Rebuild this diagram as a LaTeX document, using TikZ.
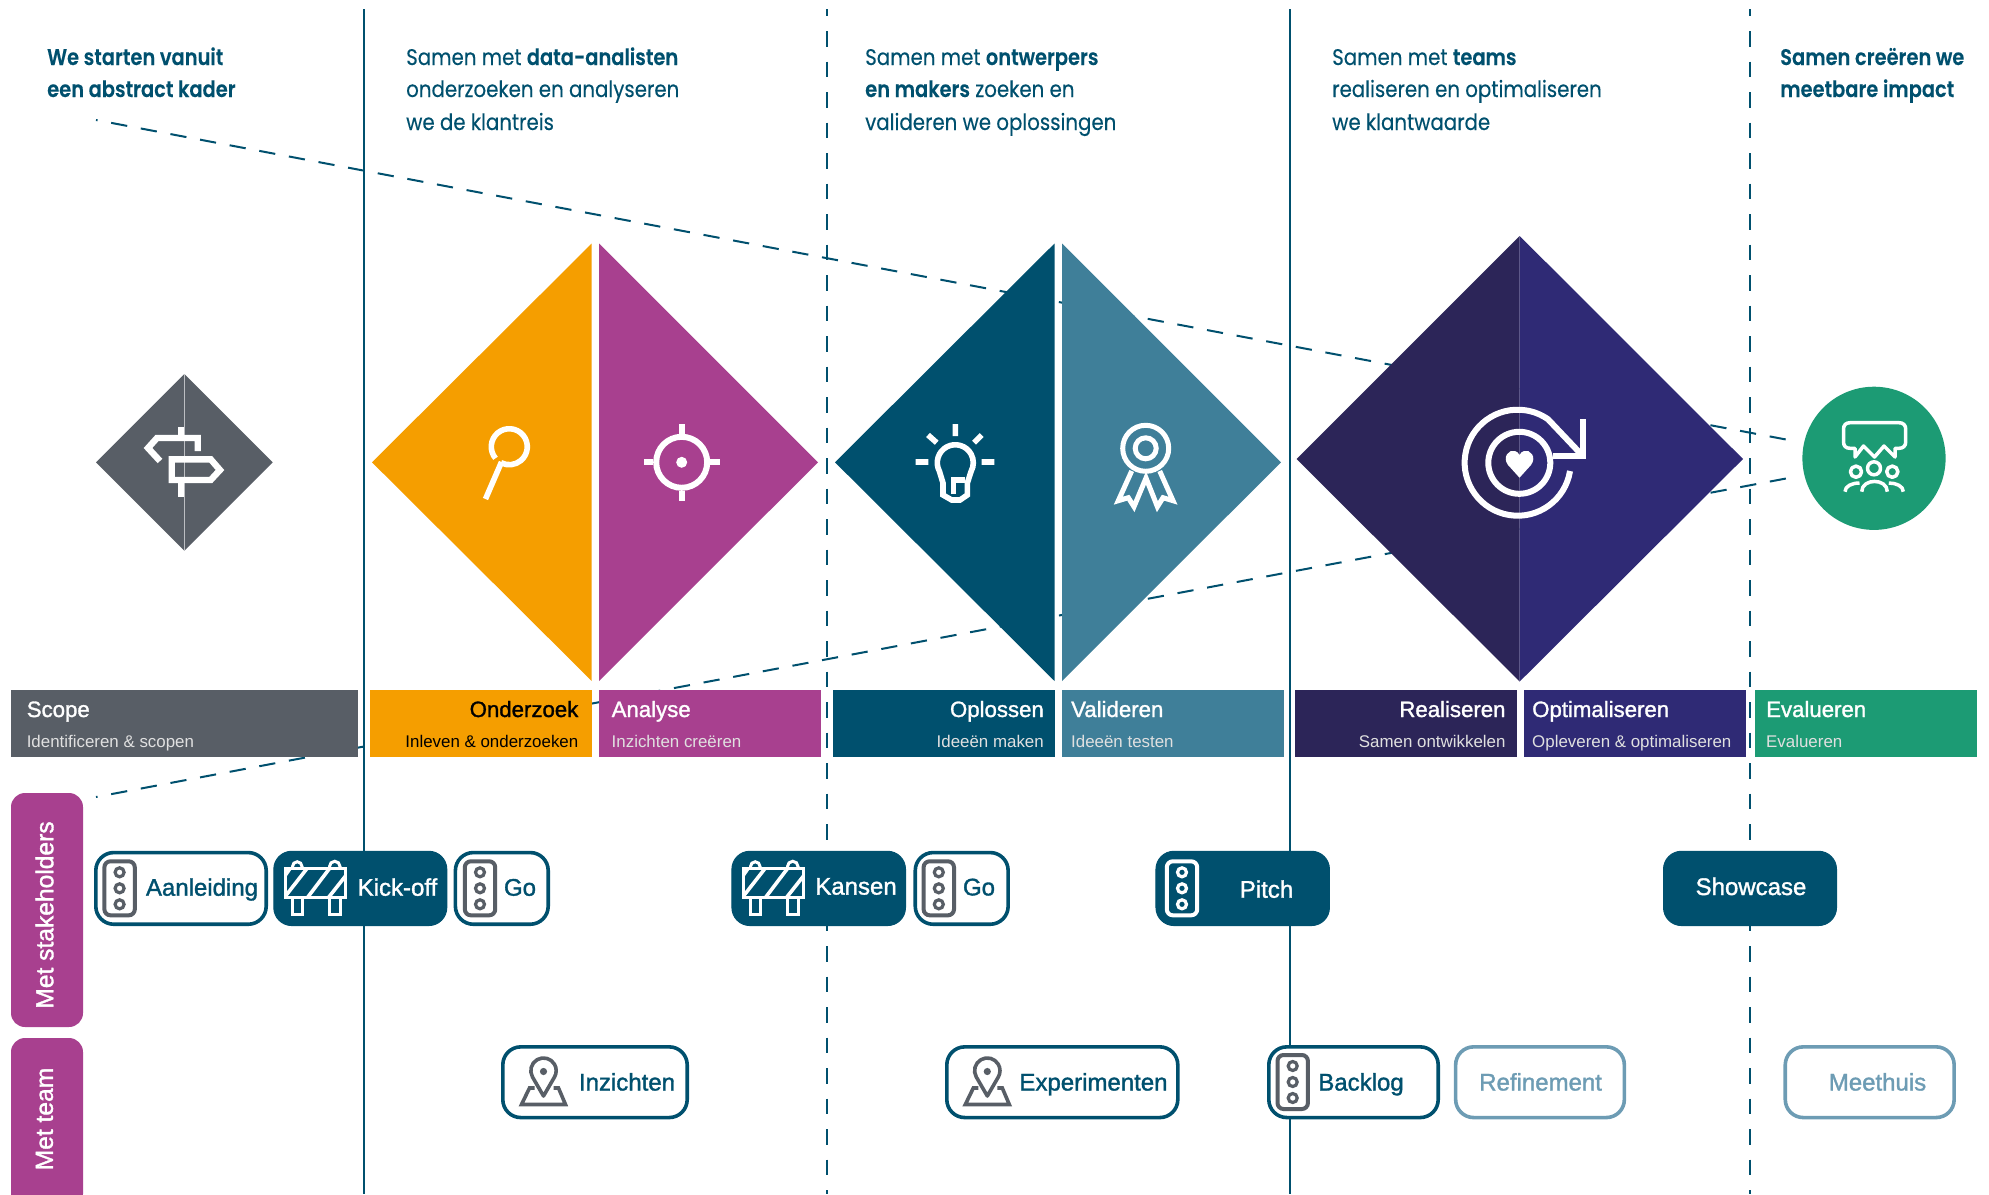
\documentclass[tikz,border=0pt]{standalone}
\usepackage{fontspec}
\usetikzlibrary{calc}
\setmainfont{Liberation Sans}
\newfontfamily\headfont[FakeStretch=0.875,FakeBold=0.25,BoldFont={Poppins SemiBold},BoldFeatures={FakeStretch=0.86,FakeBold=0.15}]{Poppins}
\newfontfamily\medfont[FakeBold=1.4]{Liberation Sans}
\newcommand{\fs}[1]{\fontsize{#1}{#1}\selectfont}
\definecolor{tealD}{HTML}{00506E}
\definecolor{tealL}{HTML}{3F7F99}
\definecolor{paleT}{HTML}{6D9CB4}
\definecolor{orangeC}{HTML}{F59E00}
\definecolor{purpleC}{HTML}{A8408F}
\definecolor{indigoD}{HTML}{2C2558}
\definecolor{indigoC}{HTML}{2F2A75}
\definecolor{greenC}{HTML}{1C9B74}
\definecolor{greyC}{HTML}{585E66}
\tikzset{
  sepline/.style={tealD,line width=2pt},
  sepdash/.style={tealD,line width=2pt,dash pattern=on 15.3pt off 15.2pt,dash phase=8.3pt},
  diag/.style={tealD,line width=2pt,dash pattern=on 16.3pt off 13.84pt,dash phase=14.7pt},
  barbox/.style={anchor=north west,minimum height=67pt,inner sep=0pt,outer sep=0pt},
  bartitle/.style={inner sep=0pt,text=white,font=\medfont\fs{22.2}},
  barsub/.style={inner sep=0pt,text=white!88!black,font=\fs{16.9}},
  headtext/.style={inner sep=0pt,anchor=base west,text=tealD,font=\headfont\fs{22.6}},
  pillW/.style={draw=tealD,line width=3.6pt,fill=white,rounded corners=18pt,inner sep=0pt},
  pillP/.style={draw=paleT,line width=3.6pt,fill=white,rounded corners=18pt,inner sep=0pt},
  pillD/.style={draw=tealD,fill=tealD,line width=1pt,rounded corners=18pt,inner sep=0pt},
  pilltext/.style={inner sep=0pt,anchor=base,text=tealD,font=\medfont\fs{24}},
  side/.style={fill=purpleC,rounded corners=14pt,inner sep=0pt,minimum width=72pt},
  sidetext/.style={inner sep=0pt,rotate=90,text=white,font=\medfont\fs{24.6}},
  icon/.style={white,line width=6pt},
}
% traffic light icon centred on #1,#2
\newcommand{\lighticon}[3]{%
  \begin{scope}[shift={(#1,#2)},#3,line width=4pt]
    \draw[rounded corners=6pt] (-15.2,-27) rectangle (15.2,27);
    \draw[line width=3.2pt] (0,-16) circle[radius=4.5] (0,0) circle[radius=4.5] (0,16) circle[radius=4.5];
  \end{scope}}
% road barrier icon centred on #1,#2
\newcommand{\barrier}[2]{%
  \begin{scope}[shift={(#1,#2)},white,line width=3pt]
    \draw (-30,-19.5) rectangle (30,9.5);
    \draw (-23,9.5) -- (-23,26.5) -- (-13.5,26.5) -- (-13.5,9.5);
    \draw (14,9.5) -- (14,26.5) -- (24.5,26.5) -- (24.5,9.5);
    \draw (-23,-19.5) -- (-23,-21.5) arc (180:360:4.75) -- (-13.5,-19.5);
    \draw (14,-19.5) -- (14,-21.5) arc (180:360:5.25) -- (24.5,-19.5);
    \draw[line width=3.6pt] (-30,-13) -- (-25.5,-19.5) (-30,8) -- (-8.5,-19.5) (-8,9.5) -- (14,-19.5) (13,9.5) -- (30,-12);
  \end{scope}}
% pin on map icon centred on #1,#2
\newcommand{\pinmap}[2]{%
  \begin{scope}[shift={(#1,#2)},greyC,line width=3.6pt]
    \draw[line join=round] (-11,-5) arc (150:390:12.7) -- (0,14) -- cycle;
    \fill (0,-10.5) circle[radius=3.6];
    \draw (-9,6) -- (-14,6) -- (-22,22.5) -- (22,22.5) -- (15,6) -- (10,6);
  \end{scope}}
\begin{document}
\begin{tikzpicture}[x=1pt,y=-1pt]
\useasboundingbox (0,0) rectangle (1989,1194);
\clip (0,0) rectangle (1989,1194);

% separators
\coordinate (s1t) at (364,9); \coordinate (s1b) at (364,1194);
\coordinate (s2t) at (826.5,9); \coordinate (s2b) at (826.5,1194);
\coordinate (s3t) at (1289.5,9); \coordinate (s3b) at (1289.5,1194);
\coordinate (s4t) at (1750,9); \coordinate (s4b) at (1750,1194);
\draw[sepline] (s1t) -- (s1b);
\draw[sepdash] (s2t) -- (s2b);
\draw[sepline] (s3t) -- (s3b);
\draw[sepdash] (s4t) -- (s4b);

% funnel lines
\coordinate (f1a) at (96,120); \coordinate (f1b) at (1786,439.5);
\coordinate (f2a) at (96,797); \coordinate (f2b) at (1786,478.5);
\draw[diag] (f1a) -- (f1b);
\draw[diag] (f2a) -- (f2b);

% diamonds
\fill[greyC] (184.3,374) -- (96,462.3) -- (184.3,550.7) -- (272.7,462.3) -- cycle;
\draw[white!60!greyC,line width=1pt] (184.3,374) -- (184.3,550.7);
\fill[orangeC] (591.7,243.5) -- (372,462.3) -- (591.7,681) -- cycle;
\fill[purpleC] (599,243.5) -- (818,462.3) -- (599,681) -- cycle;
\fill[tealD] (1054.5,243.5) -- (835,462.3) -- (1054.5,681) -- cycle;
\fill[tealL] (1062,243.5) -- (1281,462.3) -- (1062,681) -- cycle;
\fill[indigoD] (1519.7,236) -- (1296.5,459) -- (1519.7,681.5) -- cycle;
\fill[indigoC] (1519.7,236) -- (1743,459) -- (1519.7,681.5) -- cycle;
\fill[greenC] (1874,458.3) circle[radius=71.6];

% signpost
\begin{scope}[white,line width=6.4pt]
  \draw (180.7,427) -- (180.7,438) (180.7,480) -- (180.7,497);
  \draw (197.7,451) -- (197.7,438) -- (157,438) -- (148,448) -- (160,461);
  \draw (171.7,459.3) -- (210.7,459.3) -- (220,470) -- (210.7,480) -- (171.7,480) -- cycle;
\end{scope}
% magnifier
\begin{scope}[white,line width=5.6pt]
  \draw (495.5,458.3) arc (140:477:18);
  \draw (501.5,462) -- (485.5,499);
\end{scope}
% target
\begin{scope}[white,line width=6pt]
  \draw (681.7,462.3) circle[radius=25.5];
  \fill (681.7,462.3) circle[radius=5.5];
  \draw (681.7,424.3) -- (681.7,434) (681.7,490.7) -- (681.7,500.7) (644,462.3) -- (653,462.3) (710,462.3) -- (720,462.3);
\end{scope}
% bulb
\begin{scope}[white,line width=5.6pt]
  \draw (955.3,424) -- (955.3,436) (928,435) -- (936.7,442.7) (981.7,435) -- (974,442.7)
        (915.7,462) -- (928.3,462) (981.7,462) -- (994.3,462);
  \draw (943,495) -- (943,483) -- (939.4,471.2) arc (152:388:18) -- (967.3,483) -- (967.3,495) -- (960,500) -- (951.7,500) -- cycle;
  \draw (953.3,494) -- (953.3,480) -- (965,480);
\end{scope}
% rosette
\begin{scope}[white,line width=5pt]
  \draw (1145.7,448.3) circle[radius=23] (1145.7,448.3) circle[radius=10.5];
  \draw[miter limit=4] (1131.7,471) -- (1118.3,500.7) -- (1128.3,497.7) -- (1134,506.7) -- (1146,478) -- (1157.4,506.7) -- (1163,497.7) -- (1173,500.7) -- (1159.7,471);
\end{scope}
% cycle and heart
\begin{scope}[icon]
  \draw (1570,471) arc (9:305:53) -- (1580,453);
  \draw (1582.7,419.3) -- (1582.7,455.7) -- (1553.3,455.7);
  \draw (1519.3,462.8) circle[radius=31];
  \fill (1519.5,477.7) -- (1508,465) .. controls (1502,457) and (1509,449) .. (1515,451) .. controls (1517,451.5) and (1518.5,453) .. (1519.5,455) .. controls (1520.5,453) and (1522,451.5) .. (1524,451) .. controls (1530,449) and (1537,457) .. (1531,465) -- cycle;
\end{scope}
% group with speech bubble
\begin{scope}[white,line width=3.5pt,line join=round]
  \draw (1855,448.3) -- (1850,448.3) .. controls (1846,448.3) and (1843.5,446) .. (1843.5,442) -- (1843.5,429) .. controls (1843.5,425) and (1846,422.7) .. (1850,422.7) -- (1899,422.7) .. controls (1903,422.7) and (1905.7,425) .. (1905.7,429) -- (1905.7,442) .. controls (1905.7,446) and (1903,448.3) .. (1899,448.3) -- (1895,448.3) -- (1895,457) -- (1884,446) -- (1874.5,457) -- (1863.5,446) -- (1855,457) -- cycle;
  \draw (1874,468.3) circle[radius=6.5] (1856,471.7) circle[radius=5.6] (1892.3,471.7) circle[radius=5.6];
  \draw (1861.7,491.7) .. controls (1861.7,478) and (1887.3,478) .. (1887.3,491.7);
  \draw (1845,491.7) .. controls (1845,486) and (1852,483) .. (1859.5,483);
  \draw (1903.3,491.7) .. controls (1903.3,486) and (1896,483) .. (1888.8,483);
\end{scope}

% phase bars
\node[barbox,fill=greyC,minimum width=347pt] (bScope) at (11,690) {};
\node[barbox,fill=orangeC,minimum width=222pt] (bOnd) at (370,690) {};
\node[barbox,fill=purpleC,minimum width=222pt] (bAna) at (599,690) {};
\node[barbox,fill=tealD,minimum width=222pt] (bOpl) at (833,690) {};
\node[barbox,fill=tealL,minimum width=222pt] (bVal) at (1062,690) {};
\node[barbox,fill=indigoD,minimum width=222pt] (bRea) at (1295,690) {};
\node[barbox,fill=indigoC,minimum width=222pt] (bOpt) at (1524,690) {};
\node[barbox,fill=greenC,minimum width=222pt] (bEva) at (1755,690) {};

\node[bartitle,anchor=base west] (tScope) at (26.6,717) {Scope};
\node[barsub,anchor=base west] (uScope) at (26.6,747) {Identificeren \& scopen};
\node[bartitle,anchor=base east,text=black] (tOnd) at (578.5,717) {Onderzoek};
\node[barsub,anchor=base east,text=black] (uOnd) at (578.5,747) {Inleven \& onderzoeken};
\node[bartitle,anchor=base west] (tAna) at (611.5,717) {Analyse};
\node[barsub,anchor=base west] (uAna) at (611.5,747) {Inzichten creëren};
\node[bartitle,anchor=base east] (tOpl) at (1044,717) {Oplossen};
\node[barsub,anchor=base east] (uOpl) at (1044,747) {Ideeën maken};
\node[bartitle,anchor=base west] (tVal) at (1071,717) {Valideren};
\node[barsub,anchor=base west] (uVal) at (1071,747) {Ideeën testen};
\node[bartitle,anchor=base east] (tRea) at (1505.7,717) {Realiseren};
\node[barsub,anchor=base east] (uRea) at (1505.7,747) {Samen ontwikkelen};
\node[bartitle,anchor=base west] (tOpt) at (1532,717) {Optimaliseren};
\node[barsub,anchor=base west] (uOpt) at (1532,747) {Opleveren \& optimaliseren};
\node[bartitle,anchor=base west] (tEva) at (1766,717) {Evalueren};
\node[barsub,anchor=base west] (uEva) at (1766,747) {Evalueren};

% header texts
\node[headtext] (h11) at (47,65) {\textbf{We starten vanuit}};
\node[headtext] (h12) at (47,97) {\textbf{een abstract kader}};
\node[headtext] (h21) at (406,65) {Samen met \textbf{data-analisten}};
\node[headtext] (h22) at (406,97) {onderzoeken en analyseren};
\node[headtext] (h23) at (406,130) {we de klantreis};
\node[headtext] (h31) at (865,65) {Samen met \textbf{ontwerpers}};
\node[headtext] (h32) at (865,97) {\textbf{en makers} zoeken en};
\node[headtext] (h33) at (865,130) {valideren we oplossingen};
\node[headtext] (h41) at (1332,65) {Samen met \textbf{teams}};
\node[headtext] (h42) at (1332,97) {realiseren en optimaliseren};
\node[headtext] (h43) at (1332,130) {we klantwaarde};
\node[headtext] (h51) at (1780,65) {\textbf{Samen creëren we}};
\node[headtext] (h52) at (1780,97) {\textbf{meetbare impact}};

% side tabs
\node[side,minimum height=234pt] (sStake) at (47,910) {};
\node[side,minimum height=170pt] (sTeam) at (47,1123) {};
\node[sidetext] (sStakeT) at (44.5,915) {Met stakeholders};
\node[sidetext] (sTeamT) at (44.5,1119) {Met team};

% pills row 1
\node[pillW,minimum width=170.4pt,minimum height=71.7pt] (pAan) at (181,888.4) {};
\node[pillD,minimum width=173pt,minimum height=74.3pt] (pKick) at (360.3,888.4) {};
\node[pillW,minimum width=92.8pt,minimum height=71.7pt] (pGo1) at (501.8,888.4) {};
\node[pillD,minimum width=173.6pt,minimum height=74.3pt] (pKans) at (818.7,888.4) {};
\node[pillW,minimum width=92.9pt,minimum height=71.7pt] (pGo2) at (961.7,888.4) {};
\node[pillD,minimum width=173.5pt,minimum height=74.3pt] (pPitch) at (1242.7,888.4) {};
\node[pillD,minimum width=173pt,minimum height=74.3pt] (pShow) at (1750,888.4) {};
% pills row 2
\node[pillW,minimum width=184.4pt,minimum height=70.7pt] (pInz) at (595,1082.2) {};
\node[pillW,minimum width=231pt,minimum height=70.7pt] (pExp) at (1062.3,1082.2) {};
\node[pillW,minimum width=169.4pt,minimum height=70.7pt] (pBack) at (1353.5,1082.2) {};
\node[pillP,minimum width=168.7pt,minimum height=70.7pt] (pRef) at (1540,1082.2) {};
\node[pillP,minimum width=168.9pt,minimum height=70.7pt] (pMeet) at (1869.7,1082.2) {};

% pill icons
\lighticon{119.6}{888.3}{greyC}
\barrier{315.5}{888}
\lighticon{480}{888.3}{greyC}
\barrier{773.5}{888}
\lighticon{938.8}{888.3}{greyC}
\lighticon{1182}{888.3}{white}
\lighticon{1292.7}{1082}{greyC}
\pinmap{543.5}{1082}
\pinmap{987.3}{1082}

% pill labels
\node[pilltext] (lAan) at (202,895.7) {Aanleiding};
\node[pilltext,text=white] (lKick) at (397.5,895.7) {Kick-off};
\node[pilltext] (lGo1) at (520,895.7) {Go};
\node[pilltext,text=white] (lKans) at (856,894.6) {Kansen};
\node[pilltext] (lGo2) at (979,895.4) {Go};
\node[pilltext,text=white] (lPitch) at (1266.5,897.7) {Pitch};
\node[pilltext,text=white] (lShow) at (1751,895) {Showcase};
\node[pilltext] (lInz) at (627,1090.5) {Inzichten};
\node[pilltext] (lExp) at (1093.5,1090.5) {Experimenten};
\node[pilltext] (lBack) at (1361,1090.5) {Backlog};
\node[pilltext,text=paleT] (lRef) at (1540.6,1090.5) {Refinement};
\node[pilltext,text=paleT] (lMeet) at (1877.5,1090.5) {Meethuis};
\end{tikzpicture}
\end{document}
